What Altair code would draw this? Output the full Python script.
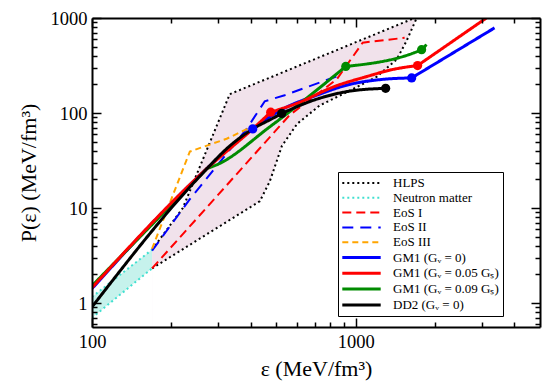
import altair as alt
import pandas as pd

FONT = "Liberation Serif"
X_DOMAIN = [100, 5000]
Y_DOMAIN = [0.56, 1000]
X_MAJOR = [100, 1000]
X_MINOR = [200, 300, 400, 500, 600, 700, 800, 900, 2000, 3000, 4000]
Y_MAJOR = [1, 10, 100, 1000]
Y_MINOR = [0.6, 0.7, 0.8, 0.9, 2, 3, 4, 5, 6, 7, 8, 9, 20, 30, 40, 50, 60, 70, 80, 90,
           200, 300, 400, 500, 600, 700, 800, 900]

SERIES = ["HLPS", "Neutron matter", "EoS I", "EoS II", "EoS III",
          "GM1 (Gᵥ = 0)", "GM1 (Gᵥ = 0.05 Gₛ)", "GM1 (Gᵥ = 0.09 Gₛ)", "DD2 (Gᵥ = 0)"]
COLORS = ["#000000", "#40e0d0", "#ff0000", "#0000ff", "#ffa500",
          "#0000ff", "#ff0000", "#008b00", "#000000"]
DASHES = [[2, 3], [2, 3], [9, 5], [11, 7], [6, 4], [1, 0], [1, 0], [1, 0], [1, 0]]
WIDTHS = [2, 2, 2, 2, 2, 3, 3, 3, 3]

# Neutron matter band
nm_eps = [100, 169]
nm_lo = [0.70, 2.32]
nm_hi = [1.16, 3.65]

# HLPS band
hlps_up_eps = [169, 221, 333, 1673]
hlps_up_p = [3.65, 10.0, 158, 1000]
hlps_lo_eps = [169, 433, 472, 525, 600, 730, 925, 1200, 1430, 1560, 1703]
hlps_lo_p = [2.32, 11.8, 19, 45, 77, 120, 166, 240, 365, 575, 1000]

# piecewise EoS
eos1_eps = [169, 562, 847, 1063, 1533]
eos1_p = [2.32, 95.3, 226, 550, 619]
eos2_eps = [169, 235, 386, 452, 538, 869]
eos2_p = [3.56, 12.4, 68.1, 133, 154, 249]
eos3_eps = [169, 235, 324, 405]
eos3_p = [3.74, 39.3, 53.6, 72]

# GM1 Gv = 0
gm0_had_eps = [100, 273, 333, 407]
gm0_had_p = [1.42, 26.1, 43, 68.1]
gm0_mix_eps = [407, 529, 712, 949, 1266, 1630]
gm0_mix_p = [68.1, 110, 154, 200, 226, 234]
gm0_q_eps = [1630, 3362]
gm0_q_p = [234, 787]

# GM1 Gv = 0.05 Gs
gm5_had_eps = [100, 273, 407, 476]
gm5_had_p = [1.45, 26.1, 68.1, 102]
gm5_mix_eps = [476, 614, 818, 1101, 1380, 1717]
gm5_mix_p = [102, 130, 187, 242, 287, 316]
gm5_q_eps = [1717, 3130]
gm5_q_p = [316, 1000]

# GM1 Gv = 0.09 Gs
gm9_had_eps = [100, 273]
gm9_had_p = [1.52, 26.1]
gm9_mix_eps = [273, 297, 472, 917]
gm9_mix_p = [26.1, 28.5, 71.5, 309]
gm9_q_eps = [917, 1778, 1853]
gm9_q_p = [309, 464, 527]

# DD2 Gv = 0
dd2_had_eps = [100, 256, 333, 407, 485, 524]
dd2_had_p = [0.91, 21.5, 45, 68, 88, 99]
dd2_mix_eps = [524, 712, 949, 1299]
dd2_mix_p = [99, 140, 170, 182]

# transition markers
dot_series = [SERIES[5], SERIES[5], SERIES[6], SERIES[6], SERIES[7], SERIES[7], SERIES[8], SERIES[8]]
dot_eps = [407, 1630, 476, 1717, 917, 1778, 524, 1299]
dot_p = [68.1, 234, 102, 316, 309, 464, 99, 182]


def add(records, series, part, eps, p):
    for e, v in zip(eps, p):
        records.append({"series": series, "part": part, "eps": e, "p": v})


lin = []
add(lin, SERIES[0], "up", hlps_up_eps, hlps_up_p)
add(lin, SERIES[0], "lo", hlps_lo_eps, hlps_lo_p)
add(lin, SERIES[1], "up", nm_eps, nm_hi)
add(lin, SERIES[1], "lo", nm_eps, nm_lo)
add(lin, SERIES[2], "a", eos1_eps, eos1_p)
add(lin, SERIES[3], "a", eos2_eps, eos2_p)
add(lin, SERIES[4], "a", eos3_eps, eos3_p)
lin_df = pd.DataFrame(lin)

smo = []
add(smo, SERIES[5], "h", gm0_had_eps, gm0_had_p)
add(smo, SERIES[5], "m", gm0_mix_eps, gm0_mix_p)
add(smo, SERIES[5], "q", gm0_q_eps, gm0_q_p)
add(smo, SERIES[7], "h", gm9_had_eps, gm9_had_p)
add(smo, SERIES[7], "m", gm9_mix_eps, gm9_mix_p)
add(smo, SERIES[7], "q", gm9_q_eps, gm9_q_p)
add(smo, SERIES[6], "h", gm5_had_eps, gm5_had_p)
add(smo, SERIES[6], "m", gm5_mix_eps, gm5_mix_p)
add(smo, SERIES[6], "q", gm5_q_eps, gm5_q_p)
add(smo, SERIES[8], "h", dd2_had_eps, dd2_had_p)
add(smo, SERIES[8], "m", dd2_mix_eps, dd2_mix_p)
smo_df = pd.DataFrame(smo)

dots_df = pd.DataFrame({"series": dot_series, "eps": dot_eps, "p": dot_p})
hlps_fill = pd.DataFrame({"eps": hlps_up_eps, "p": hlps_up_p, "base": Y_DOMAIN[0]})
hlps_mask = pd.DataFrame({"eps": hlps_lo_eps, "p": hlps_lo_p, "base": Y_DOMAIN[0]})
nm_fill = pd.DataFrame({"eps": nm_eps, "lo": nm_lo, "hi": nm_hi})
dummy = pd.DataFrame({"eps": [1000.0], "p": [10.0]})

xs = alt.Scale(type="log", domain=X_DOMAIN, nice=False)
ys = alt.Scale(type="log", domain=Y_DOMAIN, nice=False)

legend = alt.Legend(
    title=None, orient="none", legendX=246, legendY=154, direction="vertical",
    fillColor="white", strokeColor="black", padding=4,
    labelFont=FONT, labelFontSize=13, labelColor="black", labelLimit=300,
    symbolType="M-3.2,0H3.2", symbolSize=144, rowPadding=0.8,
    symbolOffset=12, labelOffset=24,
)
color = alt.Color("series:N", scale=alt.Scale(domain=SERIES, range=COLORS), legend=legend)
dash = alt.StrokeDash("series:N", scale=alt.Scale(domain=SERIES, range=DASHES))
width = alt.StrokeWidth("series:N", scale=alt.Scale(type="ordinal", domain=SERIES, range=WIDTHS))

X = alt.X("eps:Q", scale=xs, axis=None)
Y = alt.Y("p:Q", scale=ys, axis=None)

fill_layer = alt.Chart(hlps_fill).mark_area(color="#f1e2eb", opacity=1).encode(
    x=X, y=alt.Y("base:Q", scale=ys, axis=None), y2="p:Q")
mask_layer = alt.Chart(hlps_mask).mark_area(color="#ffffff", opacity=1).encode(
    x=X, y=alt.Y("base:Q", scale=ys, axis=None), y2="p:Q")
nm_layer = alt.Chart(nm_fill).mark_area(color="#c6f2ec", opacity=1).encode(
    x=X, y=alt.Y("lo:Q", scale=ys, axis=None), y2="hi:Q")

lin_layer = alt.Chart(lin_df).mark_line(clip=True).encode(
    x=X, y=Y, color=color, strokeDash=dash, strokeWidth=width, detail="part:N")
smo_layer = alt.Chart(smo_df).mark_line(clip=True, interpolate="monotone").encode(
    x=X, y=Y, color=color, strokeDash=dash, strokeWidth=width, detail="part:N")
dot_layer = alt.Chart(dots_df).mark_circle(size=85, opacity=1).encode(
    x=X, y=Y, color=alt.Color("series:N", scale=alt.Scale(domain=SERIES, range=COLORS), legend=None))

common = dict(grid=False, zindex=1)


def axis_layer(xaxis, yaxis):
    return alt.Chart(dummy).mark_point(opacity=0).encode(
        x=alt.X("eps:Q", scale=xs, axis=xaxis),
        y=alt.Y("p:Q", scale=ys, axis=yaxis))


lab = dict(labelFont=FONT, labelFontSize=18.5, labelColor="black", labelFlush=False,
           titleFont=FONT, titleFontSize=22, titleFontWeight="normal", titleColor="black")
ax_main = axis_layer(
    alt.Axis(orient="bottom", values=X_MAJOR, format="d", ticks=False, domain=True,
             domainColor="black", domainWidth=2, labelPadding=5,
             title="ε  (MeV/fm³)", titlePadding=8, **lab, **common),
    alt.Axis(orient="left", values=Y_MAJOR, format="d", ticks=False, domain=True,
             domainColor="black", domainWidth=2, labelPadding=5,
             title="P(ε)  (MeV/fm³)", titlePadding=10, **lab, **common))


def tick_axis(orient, values, size, domain=False):
    return alt.Axis(orient=orient, values=values, ticks=True, tickSize={"expr": str(-size)},
                    tickWidth=1.5, tickColor="black", labels=False, domain=domain,
                    domainColor="black", domainWidth=2, title=None, **common)


ax_frame = axis_layer(tick_axis("top", X_MAJOR, 9, True), tick_axis("right", Y_MAJOR, 9, True))
ax_b_maj = axis_layer(tick_axis("bottom", X_MAJOR, 9), tick_axis("left", Y_MAJOR, 9))
ax_b_min = axis_layer(tick_axis("bottom", X_MINOR, 5), tick_axis("left", Y_MINOR, 5))
ax_t_min = axis_layer(tick_axis("top", X_MINOR, 5), tick_axis("right", Y_MINOR, 5))

chart = alt.layer(
    fill_layer, mask_layer, nm_layer, lin_layer, smo_layer, dot_layer,
    ax_main, ax_frame, ax_b_maj, ax_b_min, ax_t_min,
).resolve_axis(x="independent", y="independent").properties(
    width=448, height=309,
    padding={"left": 84, "top": 10, "right": 2, "bottom": 62},
    autosize=alt.AutoSizeParams(type="none"),
    background="white",
).configure_view(stroke=None)

chart.save("out.html", embed_options={"renderer": "svg", "actions": False})
